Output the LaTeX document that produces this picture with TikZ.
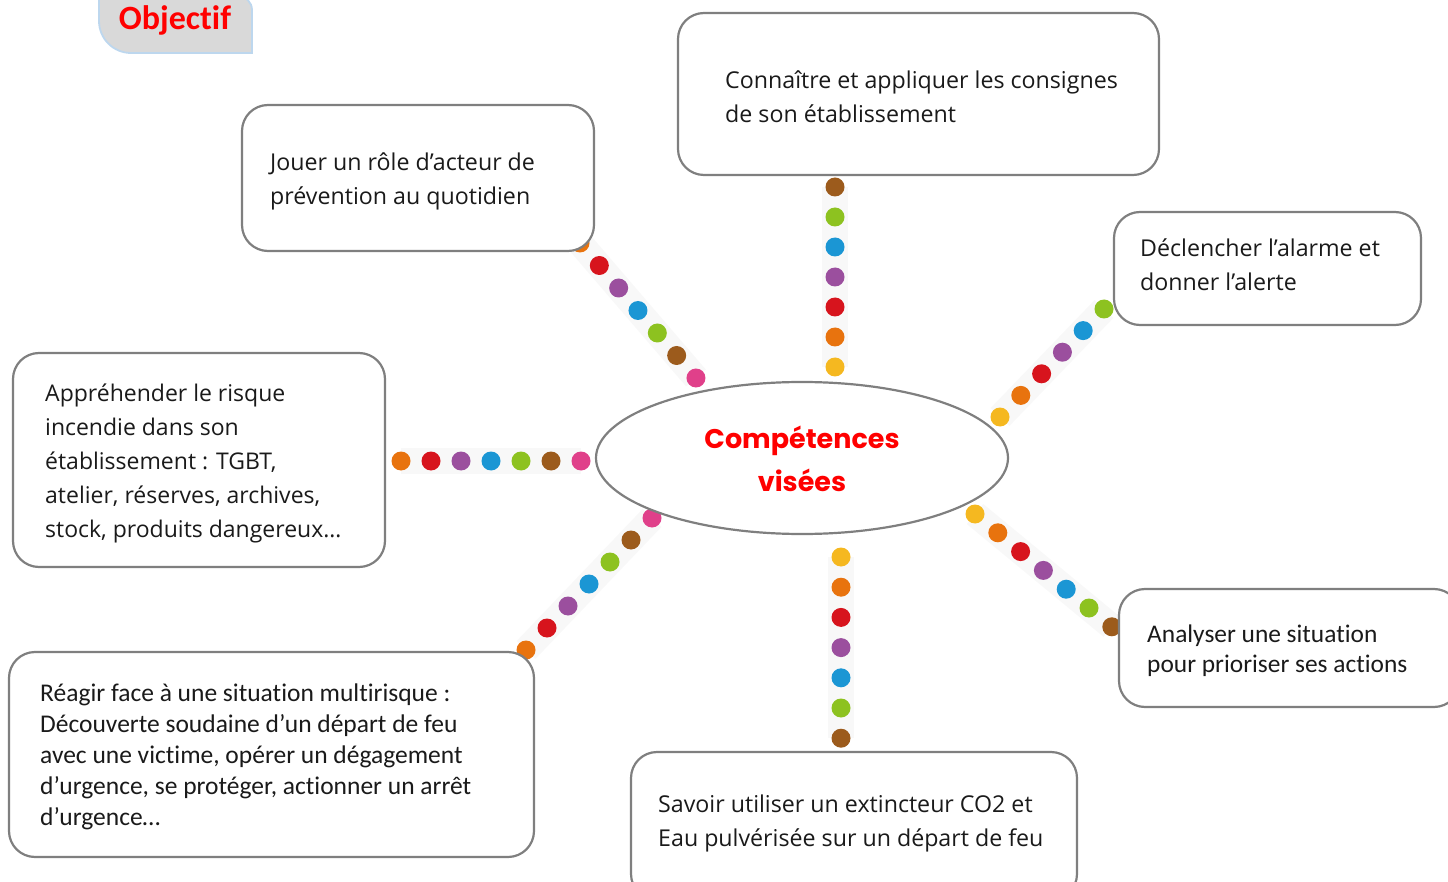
\documentclass[tikz,border=0pt]{standalone}
\usepackage{fontspec}
\setmainfont{Open Sans}
\newfontfamily\calib[Ligatures=NoCommon]{Carlito}
\newfontfamily\popp{Poppins}
\usetikzlibrary{calc,shapes.geometric}
\definecolor{corange}{HTML}{E8730E}
\definecolor{cred}{HTML}{D7141D}
\definecolor{cpurple}{HTML}{9B4F9E}
\definecolor{cblue}{HTML}{1B96D4}
\definecolor{cgreen}{HTML}{8DC220}
\definecolor{cbrown}{HTML}{9C5B1C}
\definecolor{cpink}{HTML}{E0408A}
\definecolor{cyellow}{HTML}{F5B820}
\definecolor{boxgray}{HTML}{7F7F7F}
\definecolor{txtcol}{HTML}{1A1A1A}
\definecolor{tabgray}{HTML}{D9D9D9}
\definecolor{tabblue}{HTML}{BDD7EE}
\definecolor{bandcol}{HTML}{F8F8F8}
\newcommand\dotchain[4]{%
  \draw[line width=26pt, bandcol] #1 -- ($#1+#4*#2$);
  \foreach \c [count=\i from 0] in {#3} \fill[\c] ($#1+\i*#2$) circle[radius=9.5pt];}
\tikzset{
  box/.style={draw=boxgray, line width=2.2pt, rounded corners=26pt, fill=white, inner sep=0pt},
  txt/.style={anchor=west, inner sep=0pt, align=left, text=txtcol, font=\fontsize{23.2}{34}\selectfont},
  ctxt/.style={anchor=west, inner sep=0pt, align=left, text=txtcol},
}
\begin{document}
\begin{tikzpicture}[x=1pt,y=-1pt]
\useasboundingbox (0,0) rectangle (1448,882);
\clip (0,0) rectangle (1448,882);
% dot chains
\dotchain{(835,187)}{(0,30)}{cbrown,cgreen,cblue,cpurple,cred,corange,cyellow}{6}
\dotchain{(580,243)}{(19.33,22.5)}{corange,cred,cpurple,cblue,cgreen,cbrown,cpink}{6}
\dotchain{(401,461)}{(30,0)}{corange,cred,cpurple,cblue,cgreen,cbrown,cpink}{6}
\dotchain{(1000,417)}{(20.8,-21.6)}{cyellow,corange,cred,cpurple,cblue,cgreen}{5}
\dotchain{(652,518)}{(-21,22)}{cpink,cbrown,cgreen,cblue,cpurple,cred,corange}{6}
\dotchain{(975,514)}{(22.8,18.8)}{cyellow,corange,cred,cpurple,cblue,cgreen,cbrown}{6}
\dotchain{(841,557)}{(0,30.2)}{cyellow,corange,cred,cpurple,cblue,cgreen,cbrown}{6}
% boxes
\node[box, minimum width=481pt, minimum height=162pt] (b1) at (918.5,94) {};
\node[box, minimum width=352pt, minimum height=146pt] (b2) at (418,178) {};
\node[box, minimum width=307pt, minimum height=113pt] (b3) at (1267.5,268.5) {};
\node[box, minimum width=372pt, minimum height=214pt] (b4) at (199,460) {};
\node[box, minimum width=341pt, minimum height=118pt] (b5) at (1289.5,648) {};
\node[box, minimum width=525pt, minimum height=205pt] (b6) at (271.5,754.5) {};
\node[box, minimum width=446pt, minimum height=148pt] (b7) at (854,826) {};
% texts
\node[txt] (t1) at (725,97) {Connaître et appliquer les consignes\\de son établissement};
\node[txt] (t2) at (270,181) {Jouer un rôle d’acteur de\\prévention au quotidien};
\node[txt] (t3) at (1140,265) {Déclencher l’alarme et\\donner l’alerte};
\node[txt, font=\fontsize{23}{33.8}\selectfont] (t4) at (45,463.5) {Appréhender le risque\\incendie dans son\\établissement : TGBT,\\atelier, réserves, archives,\\stock, produits dangereux…};
\node[ctxt, font=\calib\fontsize{25.4}{30}\selectfont] (t5) at (1147,650.5) {Analyser une situation\\pour prioriser ses actions};
\node[ctxt, font=\calib\fontsize{25.5}{31}\selectfont] (t6) at (40,756.5) {Réagir face à une situation multirisque :\\Découverte soudaine d’un départ de feu\\avec une victime, opérer un dégagement\\d’urgence, se protéger, actionner un arrêt\\d’urgence…};
\node[txt] (t7) at (658,823) {Savoir utiliser un extincteur CO2 et\\Eau pulvérisée sur un départ de feu};
% centre
\node[ellipse, draw=boxgray, line width=2.2pt, fill=white, minimum width=412pt, minimum height=152pt, inner sep=0pt] (c) at (802,458) {};
\node[font=\popp\bfseries\fontsize{27}{43}\selectfont, text=red, align=center] (ct) at (802,459) {Compétences\\visées};
% tab
\draw[fill=tabgray, draw=tabblue, line width=1.8pt] (99,-10) [rounded corners=32pt] -- (99,53) [sharp corners] -- (252,53) [rounded corners=14pt] -- (252,-4) -- (230,-4) [sharp corners] -- (99,-4) -- cycle;
\node[font=\calib\bfseries\fontsize{34}{36}\selectfont, text=red] (obj) at (175,20) {Objectif};
\end{tikzpicture}
\end{document}
